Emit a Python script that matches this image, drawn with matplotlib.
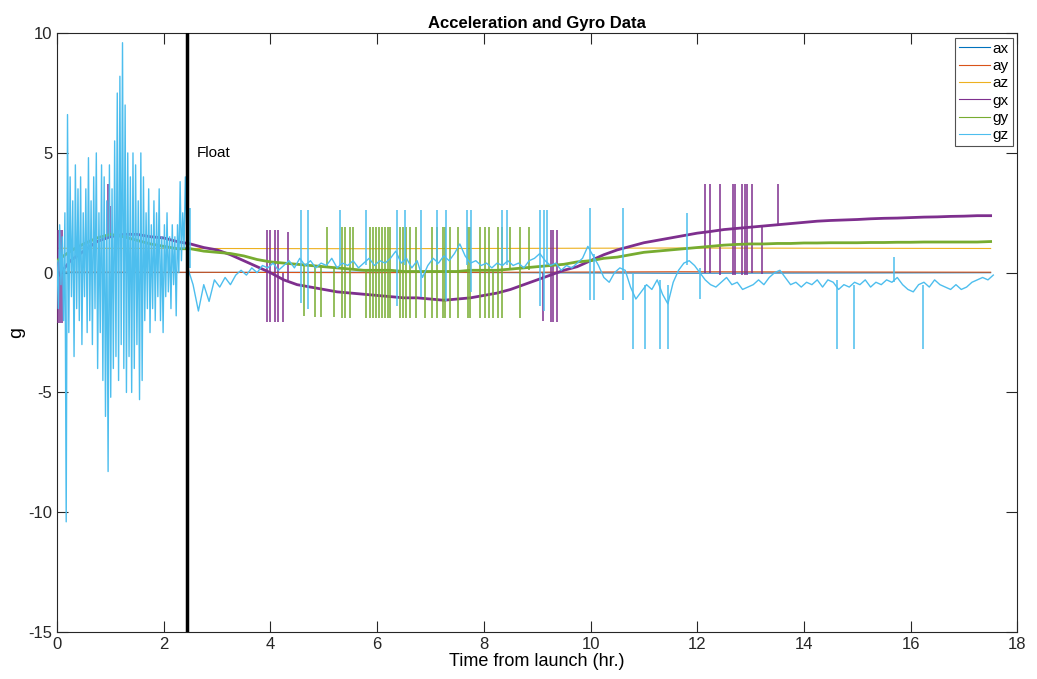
import matplotlib.pyplot as plt
import numpy as np

plt.rcParams['font.family'] = ['Liberation Sans', 'DejaVu Sans']
plt.rcParams['axes.unicode_minus'] = False

# MATLAB default colour order
C = ['#0072BD', '#D95319', '#EDB120', '#7E2F8E', '#77AC30', '#4DBEEE']
names = ['ax', 'ay', 'az', 'gx', 'gy', 'gz']

t_end = 17.5
float_t = 2.43

# accelerometer channels (flat)
ax_vals = [0.0, 0.02, -0.02, 0.0]
ay_vals = [0.03, 0.0, 0.04, 0.02]
az_vals = [1.02, 1.0, 1.03, 1.01]

# gyro x / y trends, sampled every 0.25 hr
gx_vals = [-0.2, 0.5, 0.9, 1.3, 1.5, 1.6, 1.6, 1.5, 1.45, 1.3, 1.2, 1.05,
           0.95, 0.75, 0.5, 0.25, 0.0, -0.3, -0.5, -0.6, -0.7, -0.8, -0.85, -0.9,
           -0.95, -1.0, -1.05, -1.05, -1.1, -1.15, -1.1, -1.05, -0.95, -0.85, -0.7, -0.5,
           -0.3, -0.1, 0.1, 0.25, 0.5, 0.75, 0.95, 1.1, 1.25, 1.35, 1.45, 1.55,
           1.65, 1.72, 1.8, 1.85, 1.9, 1.95, 2.0, 2.05, 2.1, 2.15, 2.18, 2.2,
           2.22, 2.25, 2.27, 2.28, 2.3, 2.32, 2.33, 2.35, 2.36, 2.38, 2.38]
gy_vals = [0.5, 0.9, 1.2, 1.45, 1.6, 1.5, 1.35, 1.2, 1.1, 1.0, 1.0, 0.9,
           0.85, 0.8, 0.7, 0.55, 0.45, 0.4, 0.35, 0.3, 0.25, 0.2, 0.15, 0.1,
           0.1, 0.1, 0.05, 0.05, 0.05, 0.05, 0.05, 0.1, 0.1, 0.1, 0.15, 0.2,
           0.25, 0.3, 0.35, 0.45, 0.5, 0.6, 0.65, 0.75, 0.85, 0.9, 0.95, 1.0,
           1.05, 1.1, 1.15, 1.18, 1.2, 1.2, 1.22, 1.22, 1.24, 1.24, 1.25, 1.25,
           1.25, 1.26, 1.26, 1.27, 1.27, 1.28, 1.28, 1.28, 1.28, 1.28, 1.3]

# gyro z: launch phase (0 - 2.43 hr), strongly oscillating
gz_early = [0.5, -1.5, 2.0, -0.5, 1.5, -2.0, 2.5, -10.4, 6.6, -2.5,
            4.0, -1.0, 3.0, -3.5, 4.5, -1.5, 3.5, -2.0, 4.0, -3.0,
            2.5, -1.0, 3.5, -2.5, 4.8, -2.0, 3.0, -3.0, 4.0, -1.5,
            5.0, -4.0, 2.5, -2.5, 4.5, -4.5, 4.0, -6.0, 3.0, -8.3,
            4.5, -5.2, 3.5, -4.0, 5.5, -3.5, 7.5, -4.5, 8.2, -3.0,
            9.6, -4.0, 7.0, -5.0, 5.0, -3.5, 4.0, -5.0, 5.0, -4.0,
            4.5, -3.0, 3.0, -5.3, 5.0, -4.5, 4.0, -2.0, 2.5, -1.5,
            3.5, -2.5, 2.0, -1.5, 3.0, -2.0, 2.5, -1.0, 3.5, -2.0,
            1.5, -2.5, 2.0, -1.0, 2.5, -0.8, 1.5, -1.5, 2.0, -0.5,
            1.5, -1.8, 2.0, 0.0, 3.8, 0.5, 2.5, 1.0, 4.0, 2.0]
# gyro z: float phase, every 0.1 hr from 2.45 hr
gz_late = [0.2, -0.5, -1.6, -0.5, -1.2, -0.3, -0.6, -0.2, -0.5, -0.1,
           0.1, -0.1, 0.2, 0.0, 0.3, 0.2, 0.4, 0.1, 0.3, 0.5,
           0.2, 0.6, 0.3, 0.5, 0.2, 0.4, 0.3, 0.6, 0.2, 0.4,
           0.3, 0.5, 0.2, 0.4, 0.6, 0.3, 0.5, 0.4, 0.6, 0.9,
           0.4, 0.6, 0.2, 0.5, -0.2, 0.3, 0.6, 0.4, 0.7, 0.5,
           0.8, 1.2, 0.7, 0.4, 0.5, 0.3, 0.4, 0.2, 0.4, 0.3,
           0.5, 0.3, 0.4, 0.2, 0.5, 0.6, 0.8, 0.5, 0.3, 0.4,
           0.1, 0.3, 0.2, 0.4, 0.6, 1.1, 0.7, 0.3, -0.2, -0.4,
           0.0, 0.2, 0.1, -0.6, -1.1, -0.8, -0.5, -0.7, -0.3, -0.9,
           -1.3, -0.4, 0.1, 0.4, 0.5, 0.3, 0.0, -0.3, -0.5, -0.6,
           -0.4, -0.2, -0.5, -0.4, -0.7, -0.6, -0.5, -0.3, -0.5, -0.2,
           0.0, 0.1, -0.2, -0.5, -0.4, -0.6, -0.4, -0.5, -0.3, -0.6,
           -0.3, -0.4, -0.7, -0.5, -0.6, -0.4, -0.5, -0.3, -0.6, -0.4,
           -0.5, -0.3, -0.4, -0.2, -0.5, -0.7, -0.8, -0.5, -0.4, -0.6,
           -0.3, -0.5, -0.6, -0.7, -0.5, -0.7, -0.6, -0.4, -0.3, -0.2,
           -0.3, -0.1]

# glitches: (time hr, low, high)
gx_spikes = [(0.02, -2.1, 1.8), (0.06, -2.1, 1.8), (0.1, -2.1, 1.8),
             (0.95, 1.5, 3.7), (1.0, 1.5, 2.8),
             (3.94, -2.06, 1.78), (4.0, -2.06, 1.78), (4.08, -2.06, 1.78),
             (4.14, -2.06, 1.78), (4.24, -2.06, 0.0), (4.33, -0.3, 1.7),
             (9.1, -2.0, 0.0), (9.25, -2.06, 1.78), (9.3, -2.06, 1.78), (9.37, -2.06, 1.78),
             (12.15, 0.0, 3.7), (12.24, 0.0, 3.7), (12.43, -0.1, 3.7), (12.68, -0.1, 3.7),
             (12.71, -0.1, 3.7), (12.84, -0.1, 3.7), (12.9, -0.1, 3.7), (12.93, -0.1, 3.7),
             (13.03, 0.0, 3.7), (13.22, -0.05, 1.9), (13.52, 1.95, 3.7)]
gy_spikes = [(4.62, -1.8, 0.3), (4.84, -1.85, 0.3), (4.95, -1.85, 0.3), (5.06, 0.2, 1.9),
             (5.2, -1.85, 0.2), (5.35, -1.9, 1.9), (5.4, -1.9, 1.9), (5.5, -1.9, 1.9),
             (5.55, 0.1, 1.9), (5.8, -1.9, 0.1), (5.87, -1.9, 1.9), (5.93, -1.9, 1.9),
             (5.98, -1.9, 1.9), (6.03, -1.9, 1.9), (6.1, -1.9, 1.9), (6.15, -1.9, 1.9),
             (6.2, -1.9, 1.9), (6.24, -1.9, 1.9), (6.43, -1.9, 1.9), (6.49, -1.9, 1.9),
             (6.55, -1.9, 1.9), (6.62, -1.9, 1.9), (6.73, -1.9, 1.9), (6.9, -1.9, 0.1),
             (7.03, -1.9, 1.9), (7.12, -1.9, 1.9), (7.23, -1.9, 1.9), (7.28, -1.9, 1.9),
             (7.37, -1.9, 1.9), (7.52, -1.9, 1.9), (7.71, -1.9, 1.9), (7.74, -1.9, 1.9),
             (7.92, -1.9, 1.9), (8.03, -1.9, 1.9), (8.09, -1.9, 1.9), (8.18, -1.9, 0.1),
             (8.26, -1.9, 1.9), (8.34, -1.9, 1.9), (8.49, 0.1, 1.9), (8.68, -1.9, 1.9),
             (8.84, 0.1, 1.9)]
gz_spikes = [(2.5, 0.2, 2.7), (4.57, -1.25, 2.6), (4.71, -1.5, 2.6), (5.31, 0.3, 2.6),
             (5.79, 0.3, 2.6), (6.37, -1.4, 2.6), (6.53, 0.3, 2.6), (6.82, -1.0, 2.6),
             (7.13, 0.3, 2.6), (7.3, -1.2, 2.6), (7.68, 0.3, 2.6), (7.76, -0.8, 2.6),
             (8.35, 0.3, 2.6), (8.43, 0.3, 2.6), (9.06, -1.4, 2.6), (9.12, -1.6, 2.6),
             (9.18, 0.3, 2.6), (9.99, -1.15, 2.7), (10.06, -1.15, 0.8), (10.61, -1.15, 2.7),
             (10.8, -3.2, 0.0), (11.03, -3.2, -0.5), (11.31, -3.2, -0.3), (11.46, -3.2, -0.5),
             (11.8, 0.3, 2.5), (12.06, -1.1, 0.2), (14.62, -3.2, -0.3), (14.93, -3.2, -0.5),
             (15.68, -0.4, 0.65), (16.23, -3.2, -0.5)]

fig = plt.figure(figsize=(10.37, 6.79), dpi=100)
ax = fig.add_axes([0.055, 0.0692, 0.926, 0.882])

t_acc = np.linspace(0, t_end, len(ax_vals))
t_g = np.linspace(0, t_end, len(gx_vals))
t_gz = np.concatenate([np.linspace(0, float_t, len(gz_early)),
                       np.linspace(2.45, 17.55, len(gz_late))])
gz_vals = gz_early + gz_late

lines = []
lines += ax.plot(t_acc, ax_vals, color=C[0], lw=0.8, zorder=2)
lines += ax.plot(t_acc, ay_vals, color=C[1], lw=0.8, zorder=2)
lines += ax.plot(t_acc, az_vals, color=C[2], lw=0.8, zorder=2)
lines += ax.plot(t_g, gx_vals, color=C[3], lw=2.0, zorder=3)
lines += ax.plot(t_g, gy_vals, color=C[4], lw=2.0, zorder=4)
lines += ax.plot(t_gz, gz_vals, color=C[5], lw=1.0, zorder=5)

for spikes, col, z in [(gx_spikes, C[3], 3), (gy_spikes, C[4], 4), (gz_spikes, C[5], 5)]:
    st = [s[0] for s in spikes]
    lo = [s[1] for s in spikes]
    hi = [s[2] for s in spikes]
    ax.vlines(st, lo, hi, colors=col, lw=1.1, zorder=z)

ax.axvline(float_t, color='k', lw=2.5, zorder=6)
ax.text(2.62, 5.0, 'Float', fontsize=11, va='center', ha='left')

ax.set_xlim(0, 18)
ax.set_ylim(-15, 10)
ax.set_xticks(np.arange(0, 19, 2))
ax.set_yticks([-15, -10, -5, 0, 5, 10])
ax.tick_params(direction='in', length=8, top=True, right=True,
               labelsize=12, colors='#262626')
for sp in ax.spines.values():
    sp.set_color('#262626')
    sp.set_linewidth(0.8)

ax.set_title('Acceleration and Gyro Data', fontsize=12, fontweight='bold', pad=4)
ax.set_xlabel('Time from launch (hr.)', fontsize=13, labelpad=1)
ax.set_ylabel('g', fontsize=14, labelpad=2)

leg = ax.legend(lines, names, loc='upper right', fontsize=11, frameon=True,
                fancybox=False, edgecolor='#262626', handlelength=2.0,
                handletextpad=0.2, labelspacing=0.22, borderpad=0.25,
                borderaxespad=0.3)
leg.get_frame().set_linewidth(0.8)
for h in leg.get_lines():
    h.set_linewidth(0.8)

fig.savefig('out.png', dpi=100)
